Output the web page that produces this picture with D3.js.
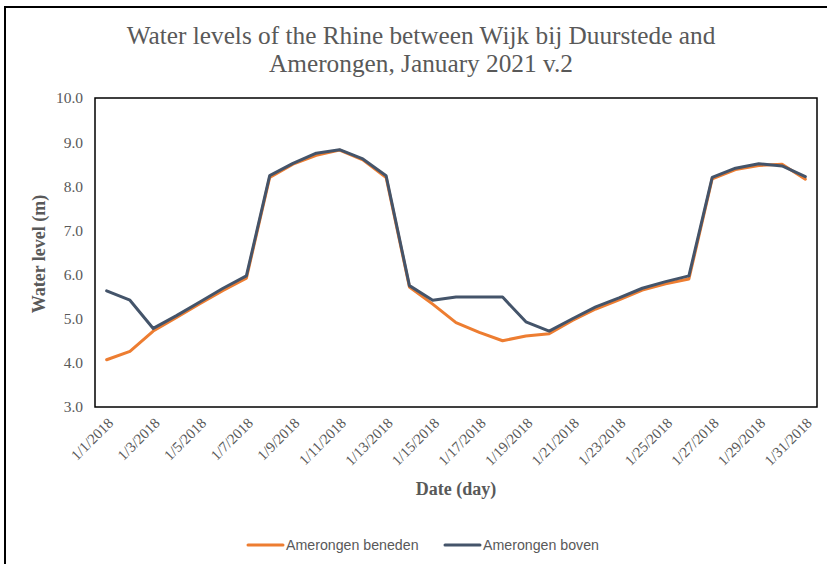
<!DOCTYPE html>
<html>
<head>
<meta charset="utf-8">
<script src="https://cdn.jsdelivr.net/npm/d3@7"></script>
<style>
  html, body { margin: 0; padding: 0; background: #fff; }
  svg { display: block; }
</style>
</head>
<body>
<svg id="chart" width="827" height="564"></svg>
<script>
// Daily water levels (m), January 2018
const dates = ["1/1/2018","1/2/2018","1/3/2018","1/4/2018","1/5/2018","1/6/2018","1/7/2018","1/8/2018",
  "1/9/2018","1/10/2018","1/11/2018","1/12/2018","1/13/2018","1/14/2018","1/15/2018","1/16/2018",
  "1/17/2018","1/18/2018","1/19/2018","1/20/2018","1/21/2018","1/22/2018","1/23/2018","1/24/2018",
  "1/25/2018","1/26/2018","1/27/2018","1/28/2018","1/29/2018","1/30/2018","1/31/2018"];

const beneden = [4.07, 4.26, 4.72, 5.03, 5.34, 5.64, 5.92, 8.20, 8.50, 8.70, 8.82, 8.60, 8.20, 5.72,
  5.33, 4.91, 4.69, 4.50, 4.61, 4.66, 4.96, 5.22, 5.43, 5.65, 5.79, 5.90, 8.17, 8.38, 8.47, 8.50, 8.16];

const boven = [5.63, 5.42, 4.78, 5.07, 5.38, 5.69, 5.97, 8.24, 8.52, 8.75, 8.83, 8.62, 8.24, 5.75,
  5.42, 5.49, 5.49, 5.49, 4.93, 4.72, 5.00, 5.27, 5.47, 5.69, 5.84, 5.97, 8.20, 8.41, 8.51, 8.46, 8.22];

const yTicks = [3, 4, 5, 6, 7, 8, 9, 10];
const xTickLabels = dates.filter((d, i) => i % 2 === 0);

const series = [
  { name: "Amerongen beneden", values: beneden, color: "#ED7D31" },
  { name: "Amerongen boven",   values: boven,   color: "#44546A" }
];

const titleLines = ["Water levels of the Rhine between Wijk bij Duurstede and",
                    "Amerongen, January 2021 v.2"];

const svg = d3.select("#chart");
const serif = "'Liberation Serif', 'DejaVu Serif', serif";
const sans = "'Liberation Sans', Arial, sans-serif";
const grey = "#595959";

const plot = { left: 95, right: 817, top: 98, bottom: 407 };

// Outer chart frame
svg.append("path")
  .attr("d", `M5,564 V7 H827`)
  .attr("fill", "none").attr("stroke", "#000").attr("stroke-width", 2);

const x = d3.scalePoint()
  .domain(dates)
  .range([plot.left, plot.right])
  .padding(0.5);

const y = d3.scaleLinear()
  .domain([3, 10])
  .range([plot.bottom, plot.top]);

// Title
svg.append("text")
  .attr("x", 421).attr("y", 44)
  .attr("text-anchor", "middle")
  .attr("font-family", serif).attr("font-size", 25.3)
  .attr("fill", grey)
  .selectAll("tspan").data(titleLines).join("tspan")
  .attr("x", 421).attr("dy", (d, i) => i === 0 ? 0 : 28)
  .text(d => d);

// Y axis
const yAxis = d3.axisLeft(y).tickValues(yTicks).tickFormat(d3.format(".1f")).tickSize(0).tickPadding(12);
svg.append("g")
  .attr("transform", `translate(${plot.left},0)`)
  .call(yAxis)
  .call(g => g.select(".domain").remove())
  .selectAll("text")
  .attr("font-family", serif).attr("font-size", 15.5).attr("fill", grey);

// X axis with rotated date labels
const xAxis = d3.axisBottom(x).tickValues(xTickLabels).tickSize(0).tickPadding(0);
svg.append("g")
  .attr("transform", `translate(0,${plot.bottom})`)
  .call(xAxis)
  .call(g => g.select(".domain").remove())
  .selectAll("text")
  .attr("font-family", serif).attr("font-size", 14.8).attr("fill", grey)
  .attr("text-anchor", "end")
  .attr("dy", null).attr("y", 0)
  .attr("transform", "translate(7,17) rotate(-45)");

// Lines
const line = d3.line()
  .x((d, i) => x(dates[i]))
  .y(d => y(d));

svg.append("g").selectAll("path")
  .data(series).join("path")
  .attr("d", d => line(d.values))
  .attr("fill", "none")
  .attr("stroke", d => d.color)
  .attr("stroke-width", 3)
  .attr("stroke-linejoin", "round")
  .attr("stroke-linecap", "round");

// Plot area border
svg.append("rect")
  .attr("x", plot.left).attr("y", plot.top)
  .attr("width", plot.right - plot.left).attr("height", plot.bottom - plot.top)
  .attr("fill", "none").attr("stroke", "#000").attr("stroke-width", 1.5);

// Axis titles
svg.append("text")
  .attr("transform", `translate(45,254) rotate(-90)`)
  .attr("text-anchor", "middle")
  .attr("font-family", serif).attr("font-weight", "bold").attr("font-size", 18)
  .attr("fill", grey)
  .text("Water level (m)");

svg.append("text")
  .attr("x", 456).attr("y", 495)
  .attr("text-anchor", "middle")
  .attr("font-family", serif).attr("font-weight", "bold").attr("font-size", 18)
  .attr("fill", grey)
  .text("Date (day)");

// Legend
const legendX = [248, 445];
const legend = svg.append("g").selectAll("g")
  .data(series).join("g")
  .attr("transform", (d, i) => `translate(${legendX[i]},545)`);
legend.append("line")
  .attr("x1", 0).attr("x2", 35).attr("y1", 0).attr("y2", 0)
  .attr("stroke", d => d.color).attr("stroke-width", 3).attr("stroke-linecap", "round");
legend.append("text")
  .attr("x", 38).attr("y", 5)
  .attr("font-family", sans).attr("font-size", 14.2).attr("fill", grey)
  .text(d => d.name);
</script>
</body>
</html>
